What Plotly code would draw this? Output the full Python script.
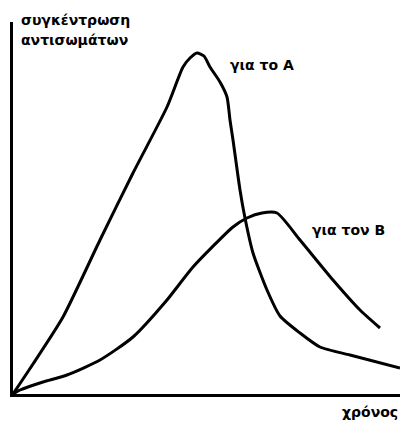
import plotly.graph_objects as go

# Curve A (antibody concentration, first exposure)
time_a = [0, 20, 50, 87, 120, 154, 170, 177, 184, 191, 197, 207, 214, 217, 220, 227, 232, 240, 254, 267, 287, 307, 337, 387]
conc_a = [0, 30, 77, 154, 221, 287, 327, 336, 341, 338, 327, 312, 297, 274, 254, 204, 176, 141, 104, 78, 61, 47, 39, 26]

# Curve B
time_b = [0, 7, 30, 54, 87, 120, 154, 180, 220, 234, 249, 264, 287, 320, 347, 367]
conc_b = [0, 4, 12, 19, 34, 57, 94, 127, 167, 176, 181, 181, 154, 114, 84, 66]

y_title_lines = ["συγκέντρωση", "αντισωμάτων"]
x_title = "χρόνος"
label_a = "για το A"
label_b = "για τον B"

FONT = "DejaVu Sans"
TXT = dict(size=14, family=FONT, weight="bold", color="black")

fig = go.Figure()
fig.add_trace(go.Scatter(x=time_a, y=conc_a, mode="lines",
                         line=dict(color="black", width=3, shape="spline", smoothing=0.6),
                         hoverinfo="skip"))
fig.add_trace(go.Scatter(x=time_b, y=conc_b, mode="lines",
                         line=dict(color="black", width=3, shape="spline", smoothing=0.6),
                         hoverinfo="skip"))

fig.update_layout(
    width=400, height=427,
    margin=dict(l=13, r=0, t=22, b=33),
    paper_bgcolor="white", plot_bgcolor="white",
    showlegend=False,
    xaxis=dict(range=[0, 387], showgrid=False, zeroline=False, showticklabels=False,
               ticks="", showline=True, linecolor="black", linewidth=3, fixedrange=True),
    yaxis=dict(range=[0, 372], showgrid=False, zeroline=False, showticklabels=False,
               ticks="", showline=True, linecolor="black", linewidth=3, fixedrange=True),
    font=dict(family=FONT, color="black"),
)

for i, line in enumerate(y_title_lines):
    fig.add_annotation(x=0, y=1, xref="paper", yref="paper", text=line,
                       showarrow=False, xanchor="left", yanchor="middle", align="left",
                       xshift=6, yshift=2 - 20 * i, font=TXT)
fig.add_annotation(x=215, y=329, text=label_a, showarrow=False,
                   xanchor="left", yanchor="middle", font=TXT)
fig.add_annotation(x=297, y=164, text=label_b, showarrow=False,
                   xanchor="left", yanchor="middle", font=TXT)
fig.add_annotation(x=1, y=0, xref="paper", yref="paper", text=x_title,
                   showarrow=False, xanchor="right", yanchor="middle",
                   yshift=-18, font=TXT)

fig.write_html("out.html", config={"displayModeBar": False},
               post_script="document.body.style.margin='0';document.body.style.overflow='hidden';")
